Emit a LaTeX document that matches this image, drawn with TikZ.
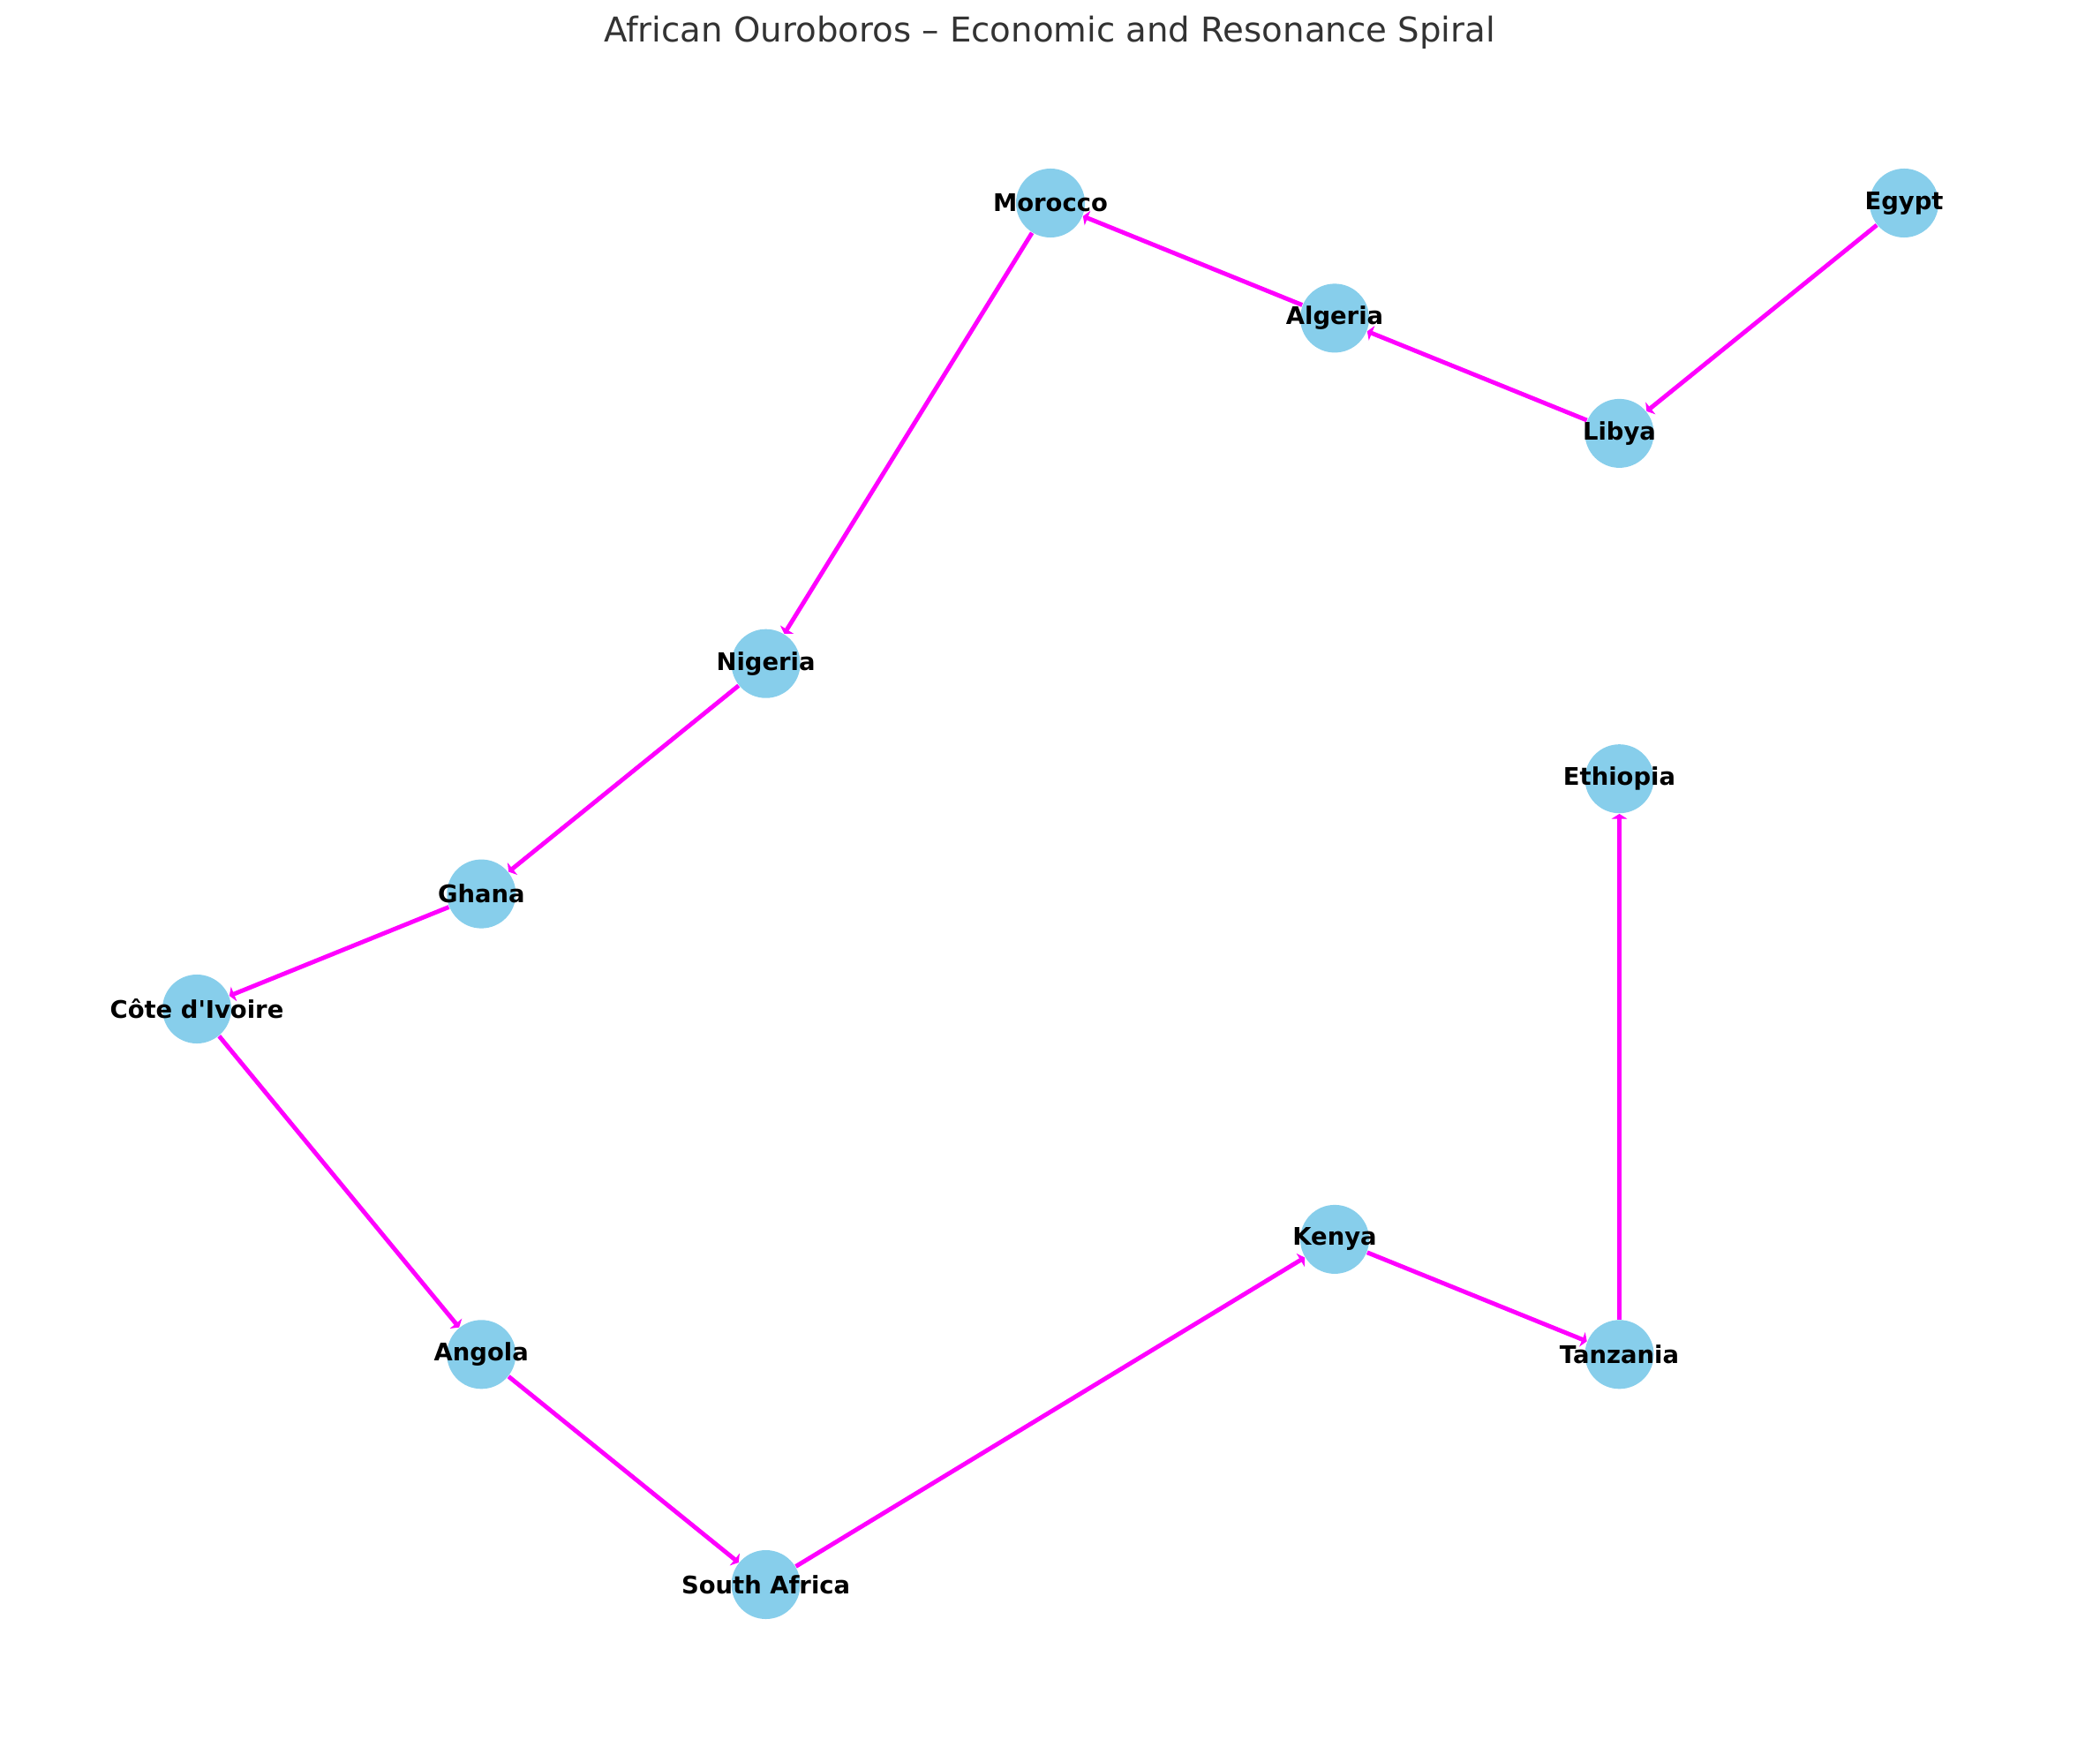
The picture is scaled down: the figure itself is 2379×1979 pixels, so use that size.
\documentclass[tikz,border=0pt]{standalone}
\usepackage{fontspec}
\setmainfont{DejaVu Sans}
\usetikzlibrary{arrows.meta}
\definecolor{skyblue}{HTML}{87CEEB}
\definecolor{linkmagenta}{HTML}{FF00FF}
\definecolor{titlegray}{HTML}{333333}
\begin{document}
\begin{tikzpicture}[x=0.01cm,y=-0.01cm,
            country/.style={circle,fill=skyblue,minimum size=0.78cm,inner sep=0pt,label={[font=\bfseries\fontsize{7.8}{9}\selectfont]center:#1}},
            link/.style={draw=linkmagenta,line width=1.4pt,-{Triangle[length=1.6pt,width=5pt]}}]
            \useasboundingbox (0,0) rectangle (2379,1979);
            \node[text=titlegray,font=\fontsize{11}{13}\selectfont] (title) at (1189,37) {African Ouroboros – Economic and Resonance Spiral};
            
            \node[country=Egypt] (egypt) at (2157,230) {};
            \node[country=Libya] (libya) at (1834.5,490.9) {};
            \node[country=Algeria] (algeria) at (1512,360.4) {};
            \node[country=Morocco] (morocco) at (1190,230) {};
            \node[country=Nigeria] (nigeria) at (867.6,751.7) {};
            \node[country=Ghana] (ghana) at (545.3,1012.6) {};
            \node[country={Côte d{\textquotesingle}Ivoire}] (ivoire) at (223,1143) {};
            \node[country=Angola] (angola) at (545.3,1534.3) {};
            \node[country=South Africa] (safrica) at (867.6,1795) {};
            \node[country=Kenya] (kenya) at (1512,1403.9) {};
            \node[country=Tanzania] (tanzania) at (1834.5,1534.3) {};
            \node[country=Ethiopia] (ethiopia) at (1834.5,882.2) {};
            
            \foreach \a/\b in {egypt/libya,libya/algeria,algeria/morocco,morocco/nigeria,nigeria/ghana,ghana/ivoire,ivoire/angola,angola/safrica,safrica/kenya,kenya/tanzania,tanzania/ethiopia}
                \draw[link] (\a) -- (\b);
        \end{tikzpicture}
\end{document}
